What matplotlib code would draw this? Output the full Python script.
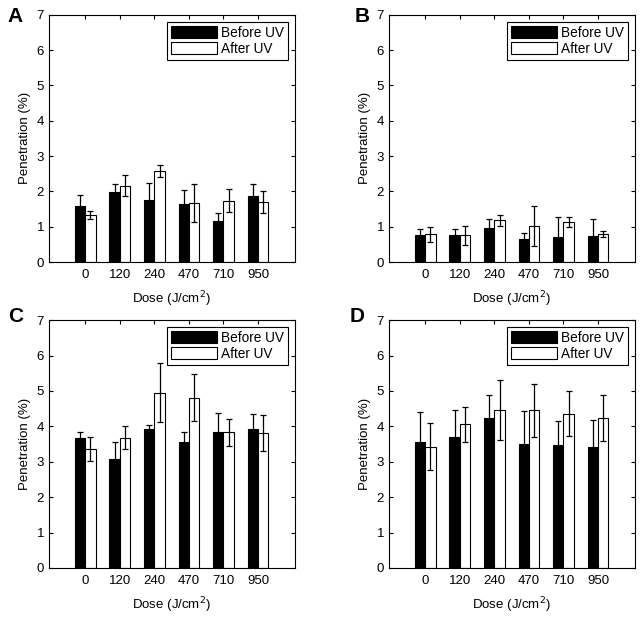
import numpy as np
import matplotlib
matplotlib.use("Agg")
import matplotlib.pyplot as plt

plt.rcParams['font.family'] = ['Liberation Sans', 'DejaVu Sans']

#   Dose categories and tick labels
doses = ["0", "120", "240", "470", "710", "950"]

#   Panel A
a_before = [1.59, 1.99, 1.76, 1.63, 1.16, 1.86]
a_before_err = [0.30, 0.22, 0.49, 0.41, 0.24, 0.35]
a_after = [1.34, 2.16, 2.59, 1.66, 1.74, 1.70]
a_after_err = [0.11, 0.30, 0.17, 0.54, 0.33, 0.30]

#   Panel B
b_before = [0.76, 0.76, 0.97, 0.64, 0.70, 0.73]
b_before_err = [0.18, 0.18, 0.25, 0.17, 0.58, 0.48]
b_after = [0.78, 0.76, 1.18, 1.02, 1.14, 0.80]
b_after_err = [0.22, 0.27, 0.15, 0.57, 0.14, 0.09]

#   Panel C
c_before = [3.68, 3.08, 3.93, 3.57, 3.83, 3.93]
c_before_err = [0.17, 0.47, 0.10, 0.28, 0.56, 0.41]
c_after = [3.36, 3.68, 4.95, 4.81, 3.83, 3.81]
c_after_err = [0.34, 0.33, 0.83, 0.66, 0.39, 0.52]

#   Panel D
d_before = [3.55, 3.70, 4.23, 3.51, 3.48, 3.43]
d_before_err = [0.85, 0.75, 0.65, 0.91, 0.68, 0.75]
d_after = [3.42, 4.06, 4.46, 4.45, 4.36, 4.23]
d_after_err = [0.66, 0.49, 0.85, 0.75, 0.63, 0.65]

panels = [
    ("A", a_before, a_before_err, a_after, a_after_err),
    ("B", b_before, b_before_err, b_after, b_after_err),
    ("C", c_before, c_before_err, c_after, c_after_err),
    ("D", d_before, d_before_err, d_after, d_after_err),
]

#   Axes rectangles in figure fractions
rects = [
    [0.076, 0.576, 0.382, 0.400],
    [0.604, 0.576, 0.382, 0.400],
    [0.076, 0.081, 0.382, 0.401],
    [0.604, 0.081, 0.382, 0.401],
]
letter_pos = [(0.012, 0.988), (0.551, 0.988), (0.012, 0.503), (0.543, 0.503)]

fig = plt.figure(figsize=(6.44, 6.18), dpi=100)
x = np.arange(1, len(doses) + 1)
w = 0.3

for (letter, bef, bef_err, aft, aft_err), rect, lp in zip(panels, rects, letter_pos):
    ax = fig.add_axes(rect)
    ax.bar(x - w / 2, bef, w, color='black', edgecolor='black', linewidth=0.8,
           label='Before UV', zorder=2)
    ax.bar(x + w / 2, aft, w, color='white', edgecolor='black', linewidth=0.8,
           label='After UV', zorder=2)
    ax.errorbar(x - w / 2, bef, yerr=bef_err, fmt='none', ecolor='black',
                elinewidth=0.9, capsize=2, capthick=0.9, zorder=3)
    ax.errorbar(x + w / 2, aft, yerr=aft_err, fmt='none', ecolor='black',
                elinewidth=0.9, capsize=2, capthick=0.9, zorder=3)
    ax.set_xlim(-0.05, 7.07)
    ax.set_ylim(0, 7)
    ax.set_xticks(x)
    ax.set_xticklabels(doses)
    ax.set_yticks(range(0, 8))
    ax.tick_params(direction='in', top=True, right=True, length=3,
                   labelsize=9.5, width=0.8)
    ax.tick_params(axis='x', pad=5)
    for s in ax.spines.values():
        s.set_linewidth(0.8)
    ax.set_ylabel("Penetration (%)", fontsize=9.5)
    ax.set_xlabel("Dose (J/cm$^2$)", fontsize=9.5, labelpad=6)
    leg = ax.legend(loc='upper right', fontsize=9.8, frameon=True, fancybox=False,
                    edgecolor='black', framealpha=1, handlelength=3.4,
                    handleheight=1.0, handletextpad=0.3, borderpad=0.3,
                    labelspacing=0.15, borderaxespad=0.5)
    leg.get_frame().set_linewidth(0.8)
    fig.text(lp[0], lp[1], letter, fontsize=15, fontweight='bold',
             ha='left', va='top')

fig.savefig("out.png", dpi=100)
